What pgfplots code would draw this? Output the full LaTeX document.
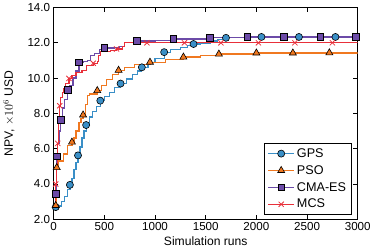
\documentclass[border=0pt]{standalone}
\usepackage{fontspec}
\setmainfont{Liberation Sans}
\usepackage{pgfplots}
\pgfplotsset{compat=1.18}
\definecolor{cgps}{HTML}{3A8FC7}
\definecolor{cpso}{HTML}{F07820}
\definecolor{ccma}{HTML}{6C4BA8}
\definecolor{cmcs}{HTML}{E8303A}
\begin{document}
\begin{tikzpicture}
\begin{axis}[
  scale only axis, width=300bp, height=209bp,
  xmin=0, xmax=3000, ymin=2, ymax=14,
  xtick={0,500,...,3000}, ytick={2,4,...,14},
  minor tick num=0,
  /pgf/number format/assume math mode=true,
  scaled x ticks=false,
  xticklabel style={/pgf/number format/1000 sep={}},
  yticklabel style={/pgf/number format/fixed,/pgf/number format/fixed zerofill,/pgf/number format/precision=1},
  tick align=inside, major tick length=4.5bp,
  tick style={black, line width=0.7pt},
  axis line style={line width=1.2pt},
  xlabel={Simulation runs}, ylabel={NPV, $\times 10^6$ USD},
  tick label style={font=\fontsize{11.5}{13}\selectfont},
  label style={font=\fontsize{12}{14}\selectfont},
  xlabel style={yshift=1bp},
  ylabel style={yshift=6bp},
  legend style={at={(0.98,0.02)}, anchor=south east, draw=black, line width=1pt,
    font=\fontsize{12.5}{14}\selectfont, row sep=2.5bp, inner sep=3bp},
  legend cell align=left,
  legend image code/.code={\draw[mark repeat=2,mark phase=2] plot coordinates {(0bp,0bp)(13bp,0bp)(26bp,0bp)};},
  legend image post style={line width=1.2pt},
]
% GPS
\addplot[cgps, line width=1.2pt, const plot, forget plot] coordinates {
(0,2.55)(20,2.69)(50,2.75)(80,3.0)(110,3.3)(140,3.7)(160,3.95)(180,4.3)(200,4.8)(220,5.2)(240,5.62)
(260,6.1)(280,6.6)(300,7.0)(320,7.34)(350,7.8)(380,8.1)(420,8.4)(460,8.72)(500,8.95)(550,9.2)
(600,9.45)(660,9.69)(720,9.95)(780,10.2)(830,10.4)(870,10.61)(930,10.9)(1000,11.1)(1090,11.47)
(1150,11.6)(1250,11.75)(1320,11.85)(1380,11.93)(1450,11.98)(1550,12.1)(1620,12.2)(1700,12.28)(1850,12.31)(2050,12.33)(3000,12.33)};
\addplot[only marks, mark=*, mark size=3.5bp, mark options={fill=cgps, draw=black, line width=0.6pt}, forget plot] coordinates {
(20,2.69)(160,3.95)(240,5.62)(320,7.34)(460,8.72)(660,9.69)(870,10.61)(1090,11.47)(1380,11.93)(1700,12.28)(2050,12.33)(2420,12.33)(2780,12.33)};
% PSO
\addplot[cpso, line width=1.2pt, const plot, forget plot] coordinates {
(0,2.75)(30,4.93)(50,5.3)(100,5.7)(140,6.2)(180,6.37)(200,6.6)(220,7.0)(250,7.5)(270,7.7)(290,7.91)
(310,8.5)(330,9.0)(350,9.1)(430,9.29)(470,9.6)(520,9.9)(580,10.2)(640,10.44)(700,10.6)(800,10.75)
(950,10.9)(1100,11.05)(1280,11.19)(1450,11.3)(1630,11.36)(2000,11.42)(3000,11.45)};
\addplot[only marks, mark=triangle*, mark size=4bp, mark options={fill=cpso, draw=black, line width=0.6pt}, forget plot] coordinates {
(20,2.78)(30,4.93)(180,6.37)(290,7.91)(430,9.29)(640,10.44)(950,10.9)(1280,11.19)(1630,11.36)(2000,11.42)(2360,11.42)(2720,11.43)};
% CMA-ES
\addplot[ccma, line width=1.2pt, const plot, forget plot] coordinates {
(0,2.65)(10,2.9)(20,3.44)(25,4.5)(30,5.56)(40,6.3)(55,7.0)(70,7.63)(90,8.3)(110,8.8)(140,9.35)
(160,9.6)(190,10.0)(220,10.4)(250,10.9)(290,10.95)(330,11.0)(360,11.3)(400,11.4)(450,11.6)(500,11.7)
(600,11.75)(650,11.8)(700,12.0)(820,12.1)(1000,12.15)(1180,12.22)(1540,12.28)(1910,12.33)(3000,12.33)};
\addplot[only marks, mark=square*, mark size=3.3bp, mark options={fill=ccma, draw=black, line width=0.6pt}, forget plot] coordinates {
(20,3.44)(30,5.56)(70,7.63)(140,9.35)(250,10.9)(500,11.7)(820,12.1)(1180,12.22)(1540,12.28)(1910,12.33)(2270,12.33)(2630,12.33)(2980,12.33)};
% MCS
\addplot[cmcs, line width=1.2pt, const plot, forget plot] coordinates {
(0,2.6)(10,2.8)(20,4.0)(30,5.0)(40,6.3)(50,7.5)(60,8.43)(70,8.9)(85,9.2)(100,9.4)(120,9.7)(150,9.98)
(180,10.15)(220,10.3)(280,10.45)(320,10.7)(390,10.84)(430,10.95)(440,11.3)(460,11.5)(560,11.55)
(620,11.65)(680,11.8)(700,12.0)(3000,12.0)};
\addplot[only marks, mark=x, mark size=3.6bp, mark options={draw=cmcs, line width=0.8pt}, forget plot] coordinates {
(20,4.0)(40,6.3)(60,8.43)(150,9.98)(390,10.84)(620,11.65)(920,12.0)(1290,12.0)(1650,12.0)(2020,12.0)(2380,12.0)(2750,12.0)};
\addlegendimage{cgps, mark=*, mark size=3.5bp, mark options={fill=cgps, draw=black, line width=0.6pt}}
\addlegendentry{GPS}
\addlegendimage{cpso, mark=triangle*, mark size=4bp, mark options={fill=cpso, draw=black, line width=0.6pt}}
\addlegendentry{PSO}
\addlegendimage{ccma, mark=square*, mark size=3.3bp, mark options={fill=ccma, draw=black, line width=0.6pt}}
\addlegendentry{CMA-ES}
\addlegendimage{cmcs, mark=x, mark size=3.6bp, mark options={draw=cmcs, line width=0.8pt}}
\addlegendentry{MCS}
\end{axis}
\end{tikzpicture}
\end{document}
